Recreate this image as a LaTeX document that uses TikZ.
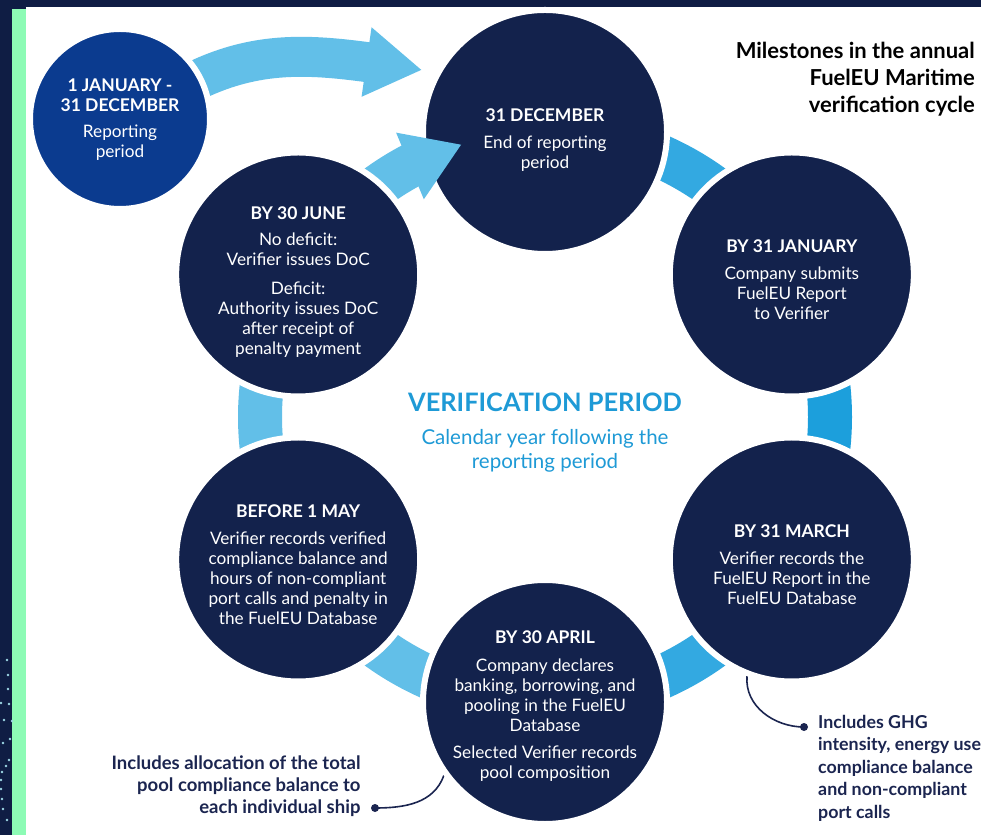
\documentclass[tikz,border=0pt]{standalone}
\usepackage{fontspec}
\setmainfont{Lato}
\usetikzlibrary{arrows.meta,bending,positioning}
\pgfdeclarelayer{frame}
\pgfdeclarelayer{bands}
\pgfsetlayers{frame,bands,main}

\definecolor{framenavy}{HTML}{0F1D44}
\definecolor{navy}{HTML}{13224C}
\definecolor{royal}{HTML}{0B3B8F}
\definecolor{mint}{HTML}{8DFBB5}
\definecolor{dotblue}{HTML}{9ED8E6}
\definecolor{skyA}{HTML}{62BFE8}
\definecolor{skyB}{HTML}{33A9E1}
\definecolor{skyC}{HTML}{1C9FDC}
\definecolor{vblue}{HTML}{1E9AD6}
\definecolor{notenavy}{HTML}{1B2550}

\tikzset{
  milestone/.style={circle, fill=navy, draw=white, line width=6pt,
    minimum size=244pt, inner sep=0pt},
  mtext/.style={text=white, align=center, inner sep=0pt,
    font=\fontsize{17.2}{20}\selectfont},
  band/.style={line width=44pt},
  note/.style={text=notenavy, font=\fontsize{18.5}{22}\bfseries},
  noteline/.style={draw=notenavy, line width=1.6pt},
}
\newcommand{\mhead}[1]{{\fontsize{17.5}{20}\bfseries #1}}

\begin{document}
\begin{tikzpicture}[x=1pt,y=1pt]
  \useasboundingbox (0,0) rectangle (981,835);
  \clip (0,0) rectangle (981,835);
  %% Frame
  \begin{pgfonlayer}{frame}
    \fill[framenavy] (0,0) rectangle (981,835);
    \fill[white] (26,0) rectangle (981,828);
    \fill[mint] (12,0) rectangle (26,826);
    \foreach \dx/\dy in {7/660,8/675,8/689,1/703,9/704,4/720,12/721,3/743,
        10/739,9/760,6/766,2/772,1/780,1/789,2/799,3/809,7/820}
      \fill[dotblue] (\dx,835-\dy) circle (1.3);
  \end{pgfonlayer}

  %% Ring of milestones
  \coordinate (ring) at (545,418);
  \node[milestone] (dec) at ([shift={(90:285)}]ring) {};
  \draw[band, skyA, -{Triangle[length=56pt,width=68pt]}]
    ([shift={(150:285)}]ring) arc[start angle=150, end angle=107, radius=285];
  \node[milestone] (jun) at ([shift={(150:285)}]ring) {};
  \node[milestone] (jan) at ([shift={(30:285)}]ring) {};
  \node[milestone] (mar) at ([shift={(-30:285)}]ring) {};
  \node[milestone] (apr) at ([shift={(-90:285)}]ring) {};
  \node[milestone] (may) at ([shift={(-150:285)}]ring) {};
  \node[milestone, fill=royal, minimum size=180pt] (report) at (120,716) {};

  %% Milestone texts
  \node[mtext] (decText) at ([yshift=-8pt]dec)
    {\mhead{31 DECEMBER}\\[7pt] End of reporting\\period};
  \node[mtext] (junText) at ([yshift=-8pt]jun)
    {\mhead{BY 30 JUNE}\\[6pt] No deficit:\\Verifier issues DoC\\[9pt]
     Deficit:\\Authority issues DoC\\after receipt of\\penalty payment};
  \node[mtext] (janText) at ([yshift=-5pt]jan)
    {\mhead{BY 31 JANUARY}\\[7pt] Company submits\\FuelEU Report\\to Verifier};
  \node[mtext] (marText) at ([yshift=-5pt]mar)
    {\mhead{BY 31 MARCH}\\[7pt] Verifier records the\\FuelEU Report in the\\FuelEU Database};
  \node[mtext] (aprText) at ([yshift=-4pt]apr)
    {\mhead{BY 30 APRIL}\\[8pt] Company declares\\banking, borrowing, and\\pooling in the FuelEU\\Database\\[7pt]
     Selected Verifier records\\pool composition};
  \node[mtext] (mayText) at ([yshift=-5pt]may)
    {\mhead{BEFORE 1 MAY}\\[7pt] Verifier records verified\\compliance balance and\\hours of non-compliant\\port calls and penalty in\\the FuelEU Database};
  \node[mtext] (reportText) at ([yshift=-1pt]report)
    {\mhead{1 JANUARY -}\\\mhead{31 DECEMBER}\\[6pt] Reporting\\period};

  %% Centre and title
  \node[text=vblue, font=\fontsize{25.4}{30}\bfseries] (vtitle) at (545,433)
    {VERIFICATION PERIOD};
  \node[text=vblue, align=center, font=\fontsize{20.5}{24}\selectfont, below=11pt of vtitle.south]
    (vsub) {Calendar year following the\\reporting period};
  \node[anchor=north east, align=right, inner sep=0pt, font=\fontsize{22}{27}\bfseries] (title)
    at (975,793) {Milestones in the annual\\FuelEU Maritime\\verification cycle};

  %% Notes
  \node[note, anchor=north east, align=right] (noteL) at (364,83)
    {Includes allocation of the total\\pool compliance balance to\\each individual ship};
  \coordinate (dotL) at (375,27);
  \node[note, anchor=north west, align=left, inner sep=0pt, font=\fontsize{17.8}{22.4}\bfseries] (noteR) at (818,120)
    {Includes GHG\\intensity, energy use\\compliance balance\\and non-compliant\\port calls};
  \coordinate (dotR) at (804,108);
  \fill[notenavy] (dotL) circle (4);
  \fill[notenavy] (dotR) circle (4);

  \begin{pgfonlayer}{bands}
    %% Ring pieces
    \foreach \ang/\col in {60/skyB,0/skyC,-60/skyB,-120/skyA,180/skyA}
      \draw[band, \col] ([shift={(\ang+30:285)}]ring)
        arc[start angle=\ang+30, end angle=\ang-30, radius=285];
    %% Reporting arrow
    \draw[band, skyA, line width=40pt, -{Triangle[length=56pt,width=66pt]}]
      (185,749) to[out=28, in=172] (422,765);
    %% Note leaders
    \draw[noteline] (dotL) to[out=0, in=-110] (apr.216);
    \draw[noteline] (mar.249) to[out=-95, in=180] (dotR);
  \end{pgfonlayer}
\end{tikzpicture}
\end{document}
